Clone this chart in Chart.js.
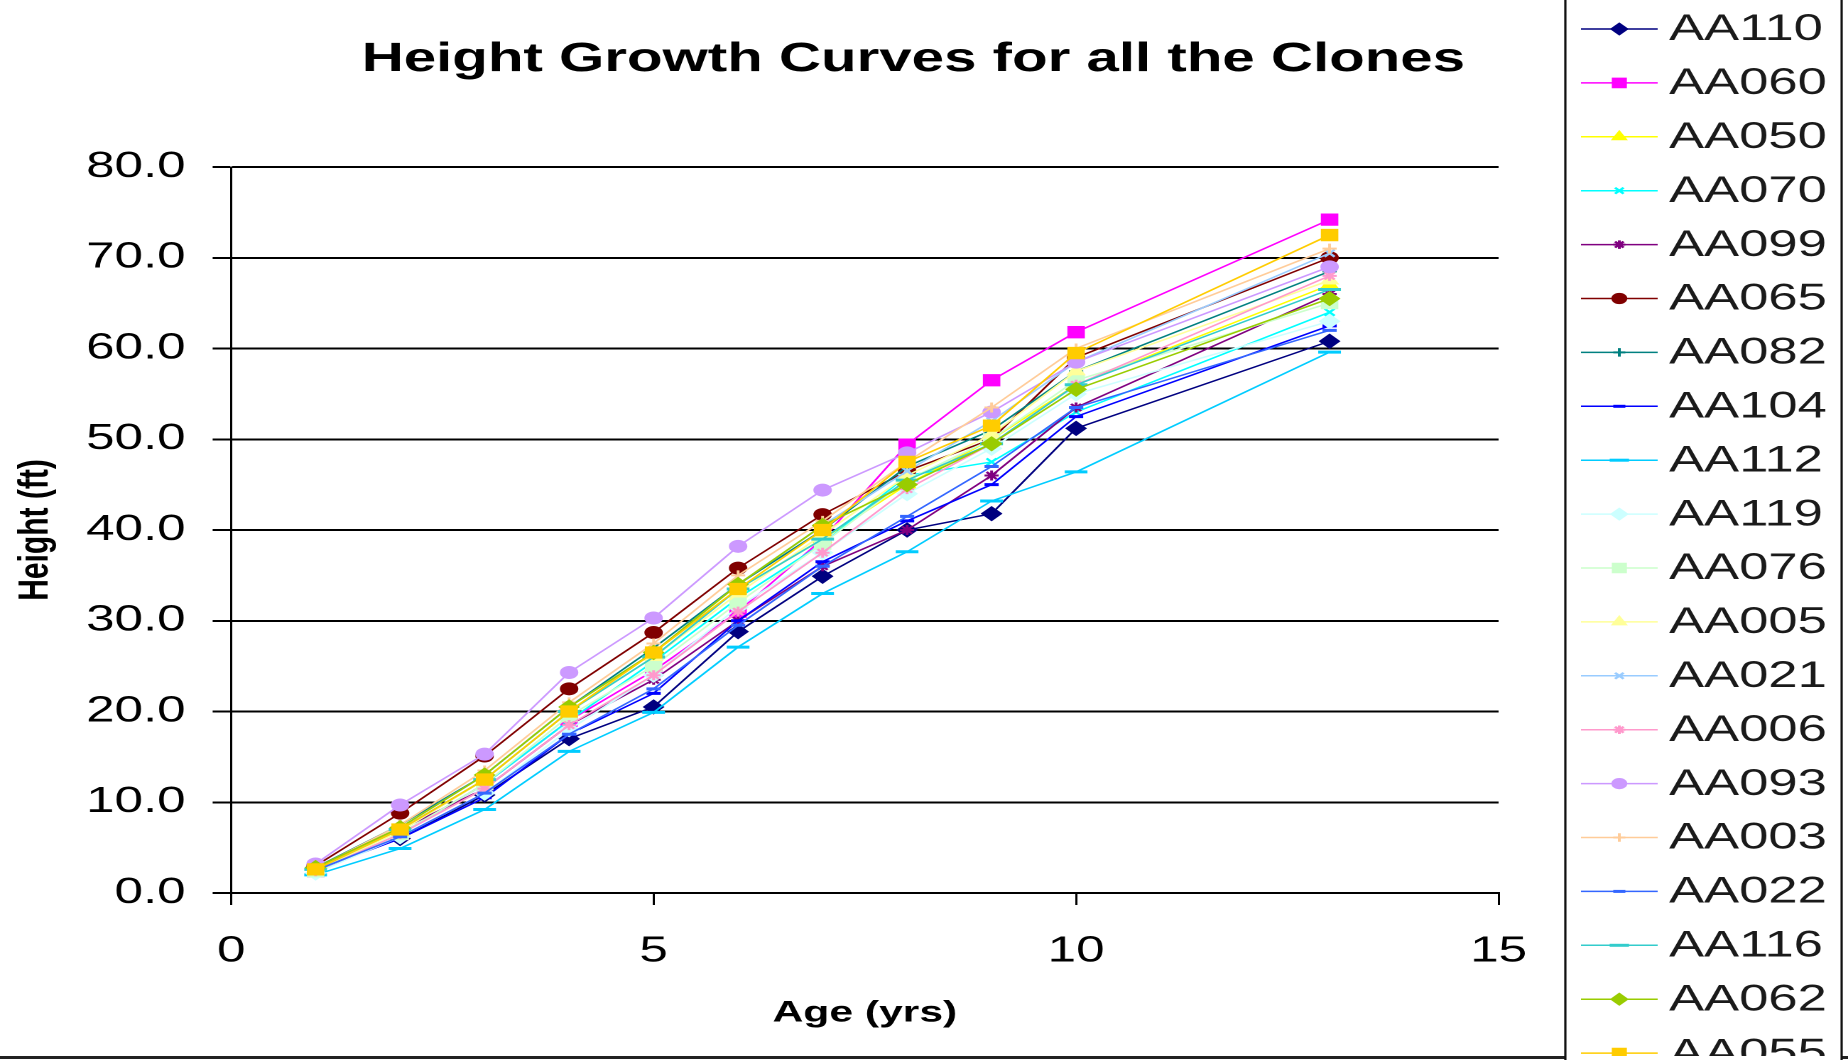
<!DOCTYPE html>
<html>
<head>
<meta charset="utf-8">
<script src="https://cdn.jsdelivr.net/npm/chart.js"></script>
<style>
  html, body { margin: 0; padding: 0; background: #fff; overflow: hidden; }
  /* the source picture is stretched sideways, so the whole chart is drawn narrow and widened */
  #wrap { width: 1301px; height: 1060px; transform: scaleX(1.42045); transform-origin: 0 0; }
</style>
</head>
<body>
<div id="wrap"><canvas id="chart" width="1301" height="1060"></canvas></div>
<script>
const ages = [1, 2, 3, 4, 5, 6, 7, 8, 9, 10, 13];

const clones = ['AA110', 'AA060', 'AA050', 'AA070', 'AA099', 'AA065', 'AA082', 'AA104', 'AA112', 'AA119',
                'AA076', 'AA005', 'AA021', 'AA006', 'AA093', 'AA003', 'AA022', 'AA116', 'AA062', 'AA055'];

const AA110 = [2.8, 6.0, 10.8, 17.0, 20.5, 28.8, 34.9, 40.0, 41.8, 51.2, 60.8];
const AA060 = [2.4, 6.5, 12.0, 19.0, 24.5, 31.0, 39.0, 49.4, 56.5, 61.8, 74.2];
const AA050 = [2.6, 6.8, 12.5, 20.0, 26.5, 33.5, 39.0, 45.0, 50.0, 56.0, 67.0];
const AA070 = [2.3, 6.5, 12.0, 19.0, 25.5, 32.5, 38.5, 46.0, 47.5, 53.0, 64.0];
const AA099 = [2.7, 7.0, 11.5, 18.5, 23.5, 30.0, 36.0, 40.0, 46.0, 53.5, 66.0];
const AA065 = [3.0, 8.8, 15.1, 22.5, 28.7, 35.8, 41.7, 46.5, 50.0, 59.0, 70.0];
const AA082 = [2.8, 7.5, 13.0, 20.5, 27.0, 34.0, 40.0, 47.0, 51.0, 57.5, 68.5];
const AA104 = [2.5, 6.0, 10.5, 17.5, 22.0, 30.0, 36.5, 41.0, 45.0, 52.5, 62.5];
const AA112 = [2.0, 4.9, 9.2, 15.6, 19.9, 27.1, 33.0, 37.6, 43.2, 46.4, 59.6];
const AA119 = [2.2, 6.2, 11.0, 18.0, 24.0, 31.5, 37.5, 44.0, 49.0, 55.0, 63.0];
const AA076 = [2.4, 6.5, 12.0, 19.5, 25.0, 32.0, 38.5, 45.5, 50.0, 56.5, 65.0];
const AA005 = [2.5, 6.8, 12.5, 20.0, 26.0, 33.0, 39.5, 46.0, 50.5, 57.5, 67.5];
const AA021 = [2.6, 7.2, 13.0, 20.5, 26.5, 34.0, 40.5, 46.5, 52.0, 58.5, 70.5];
const AA006 = [2.4, 6.5, 11.5, 18.5, 24.0, 31.0, 37.5, 44.5, 49.5, 56.0, 68.0];
const AA093 = [3.2, 9.7, 15.3, 24.3, 30.3, 38.2, 44.4, 48.5, 53.0, 58.5, 69.0];
const AA003 = [2.7, 7.5, 13.5, 21.0, 27.5, 35.0, 41.0, 47.5, 53.5, 60.0, 71.0];
const AA022 = [2.5, 6.2, 11.0, 17.5, 22.5, 29.5, 36.0, 41.5, 47.0, 53.5, 62.0];
const AA116 = [2.6, 7.0, 12.5, 20.0, 26.0, 33.5, 39.0, 45.5, 49.5, 56.0, 66.5];
const AA062 = [2.8, 7.2, 13.0, 20.5, 26.5, 34.0, 40.5, 45.0, 49.5, 55.5, 65.5];
const AA055 = [2.6, 7.0, 12.5, 20.0, 26.5, 33.5, 40.0, 47.5, 51.5, 59.5, 72.5];

const heights = [AA110, AA060, AA050, AA070, AA099, AA065, AA082, AA104, AA112, AA119,
                 AA076, AA005, AA021, AA006, AA093, AA003, AA022, AA116, AA062, AA055];

const yTicks = [0, 10, 20, 30, 40, 50, 60, 70, 80];
const xTicks = [0, 5, 10, 15];

// old spreadsheet colour / marker order
const colors = ['#000080', '#FF00FF', '#FFFF00', '#00FFFF', '#800080', '#800000', '#008080', '#0000FF',
                '#00CCFF', '#CCFFFF', '#CCFFCC', '#FFFF99', '#99CCFF', '#FF99CC', '#CC99FF', '#FFCC99',
                '#3366FF', '#33CCCC', '#99CC00', '#FFCC00'];
const markers = ['rectRot', 'rect', 'triangle', 'crossRot', 'star', 'circle', 'cross', 'line', 'line'];
const markerSize = { rectRot: 7, rect: 8, triangle: 7, crossRot: 5, star: 5, circle: 6, cross: 5, line: 5 };

Chart.defaults.font.family = '"Liberation Sans", Arial, sans-serif';
Chart.defaults.color = '#000';

const datasets = clones.map((name, i) => {
    const style = markers[i % markers.length];
    const longDash = i % markers.length === 8;
    return {
        label: name,
        data: ages.map((a, k) => ({ x: a, y: heights[i][k] })),
        borderColor: colors[i],
        backgroundColor: colors[i],
        borderWidth: 1.5,
        pointStyle: style,
        pointRadius: longDash ? 8 : markerSize[style],
        pointBorderWidth: style === 'line' ? 3 : (['cross', 'crossRot', 'star'].includes(style) ? 2 : 1),
        tension: 0,
        order: clones.length - i
    };
});

const legendBox = {
    id: 'legendBox',
    afterDraw(chart) {
        const ctx = chart.ctx;
        const W = chart.width, H = chart.height;
        ctx.save();
        // bottom edge of the chart frame
        ctx.strokeStyle = '#222';
        ctx.lineWidth = 3;
        ctx.beginPath();
        ctx.moveTo(0, H - 2.5);
        ctx.lineTo(W, H - 2.5);
        ctx.stroke();

        // legend frame, runs off the top and bottom
        const bx = 1102, bw = 194.5;
        ctx.lineWidth = 1.6;
        ctx.strokeStyle = '#111';
        ctx.fillStyle = '#fff';
        ctx.fillRect(bx, -5, bw, H + 10);
        ctx.strokeRect(bx, -5, bw, H + 10);

        ctx.save();
        ctx.beginPath();
        ctx.rect(bx, 0, bw, H - 4);
        ctx.clip();
        chart.data.datasets.forEach((ds, i) => {
            const y = 29 + 53.9 * i;
            ctx.strokeStyle = ds.borderColor;
            ctx.lineWidth = 1.5;
            ctx.beginPath();
            ctx.moveTo(1113, y);
            ctx.lineTo(1167, y);
            ctx.stroke();
            if (Chart.helpers && Chart.helpers.drawPoint) {
                ctx.fillStyle = ds.backgroundColor;
                ctx.strokeStyle = ds.borderColor;
                ctx.lineWidth = ds.pointBorderWidth;
                Chart.helpers.drawPoint(ctx, {
                    pointStyle: ds.pointStyle, radius: ds.pointRadius * 0.85, rotation: 0, borderWidth: ds.pointBorderWidth
                }, 1140, y);
            }
            ctx.fillStyle = '#1a1a1a';
            ctx.font = '37px "Liberation Sans", Arial, sans-serif';
            ctx.textBaseline = 'middle';
            ctx.textAlign = 'left';
            ctx.fillText(ds.label, 1175, y + 1);
        });
        ctx.restore();
        ctx.restore();
    }
};

new Chart(document.getElementById('chart'), {
    type: 'line',
    data: { datasets: datasets },
    options: {
        responsive: false,
        animation: false,
        devicePixelRatio: 2,
        layout: { padding: { left: 3, right: 18, top: 0, bottom: 3 } },
        plugins: {
            legend: { display: false },
            tooltip: { enabled: false },
            title: {
                display: true,
                text: 'Height Growth Curves for all the Clones',
                color: '#000',
                font: { size: 41, weight: 'bold' },
                padding: { top: 35, bottom: 82.8 }
            }
        },
        scales: {
            x: {
                type: 'linear',
                position: 'bottom',
                min: 0,
                max: 15,
                afterBuildTicks: s => { s.ticks = xTicks.map(v => ({ value: v })); },
                afterFit: s => { s.height = 164; },
                ticks: { font: { size: 36 }, color: '#000', padding: 25, maxRotation: 0 },
                grid: { drawOnChartArea: false, color: '#000', lineWidth: 1.5, tickLength: 12 },
                border: { display: true, color: '#000', width: 2 },
                title: {
                    display: true, text: 'Age (yrs)', color: '#000',
                    font: { size: 30, weight: 'bold' }, padding: { top: 10, bottom: 26 }
                }
            },
            y: {
                min: 0,
                max: 80,
                afterBuildTicks: s => { s.ticks = yTicks.map(v => ({ value: v })); },
                afterFit: s => { s.width = 159.7; },
                ticks: { font: { size: 36 }, color: '#000', padding: 19, callback: v => v.toFixed(1) },
                grid: { color: '#000', lineWidth: 2, tickLength: 13 },
                border: { display: true, color: '#000', width: 1.5 },
                title: {
                    display: true, text: 'Height (ft)', color: '#000',
                    font: { size: 30, weight: 'bold' }, padding: { top: 4, bottom: 0 }
                }
            },
            // empty axis that keeps room for the legend on the right
            gap: {
                type: 'linear',
                position: 'right',
                display: true,
                ticks: { display: false },
                grid: { display: false },
                border: { display: false },
                afterFit: s => { s.width = 228; }
            }
        }
    },
    plugins: [legendBox]
});
</script>
</body>
</html>
